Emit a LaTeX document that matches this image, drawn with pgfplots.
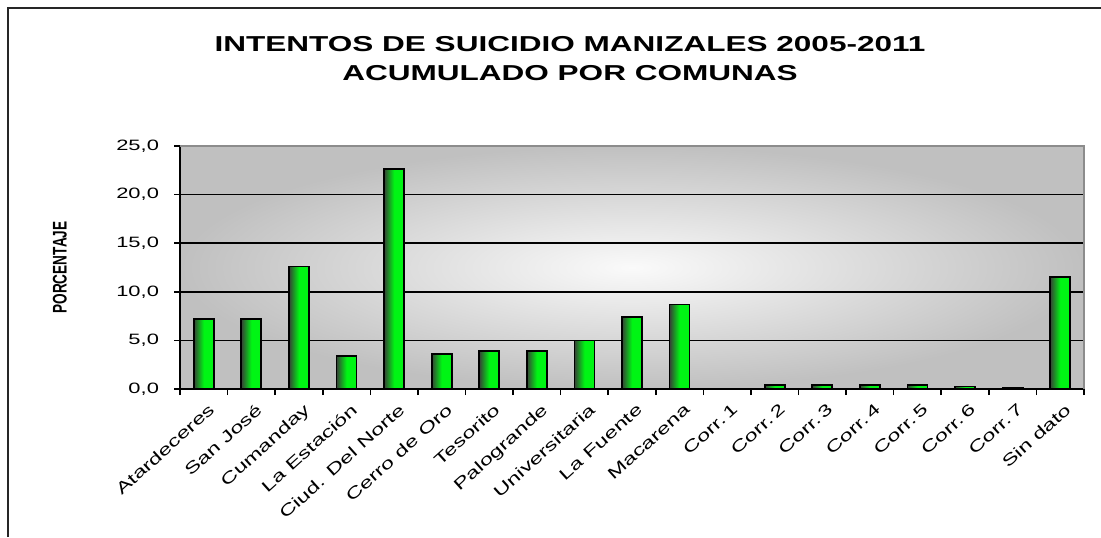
\documentclass[border=0pt]{standalone}
\usepackage{fontspec}
\setmainfont{Liberation Sans}
\newfontfamily\tickfont{Liberation Sans}[FakeStretch=1.46]
\newfontfamily\titlefont{Liberation Sans Bold}[FakeStretch=1.46]
\newfontfamily\boldfont{Liberation Sans Bold}
\usepackage{graphicx}
\usepackage{pgfplots}
\pgfplotsset{compat=1.18}
\definecolor{bargreen}{RGB}{0,245,20}
\definecolor{bardark}{RGB}{55,65,55}
\definecolor{bgedge}{RGB}{192,192,192}
\definecolor{bgcentre}{RGB}{250,250,250}

\pgfplotsset{
    gbar/.style={ybar, bar shift=0pt, bar width=10pt, draw=black, line width=0.9pt,
        left color=bardark, right color=bargreen, middle color=bargreen},
}

\begin{document}
\begin{tikzpicture}
\useasboundingbox (0,0) rectangle (550.5pt,268.5pt);
% outer chart frame (only left and top visible)
\draw[line width=1pt, black!85] (4pt,0) -- (4pt,264.5pt) -- (551pt,264.5pt);

\node[anchor=base, font=\titlefont\fontsize{10.8}{12}\selectfont] at (285pt,243pt)
  {INTENTOS DE SUICIDIO MANIZALES 2005-2011};
\node[anchor=base, font=\titlefont\fontsize{10.8}{12}\selectfont] at (285pt,228.5pt)
  {ACUMULADO POR COMUNAS};

\begin{axis}[
    at={(90pt,74pt)}, anchor=south west,
    scale only axis,
    width=452pt, height=121.5pt,
    xmin=-0.5, xmax=18.5,
    ymin=0, ymax=25,
    axis x line*=bottom, axis y line*=left,
    axis line style={black, line width=0.9pt},
    axis background/.style={shade, shading=radial, inner color=bgcentre, outer color=bgedge},
    ytick={0,5,...,25},
    ymajorgrids,
    major grid style={black, line width=0.8pt},
    tick align=outside,
    major tick length=3pt,
    major tick style={black, line width=0.8pt},
    xtick={0,...,18},
    xticklabels={Atardeceres,San José,Cumanday,La Estación,Ciud. Del Norte,Cerro de Oro,Tesorito,Palogrande,Universitaria,La Fuente,Macarena,Corr.\,1,Corr.\,2,Corr.\,3,Corr.\,4,Corr.\,5,Corr.\,6,Corr.\,7,Sin dato},
    major x tick style={draw=none},
    extra x ticks={-0.5,0.5,...,18.5},
    extra x tick labels={},
    extra x tick style={major x tick style={draw=black, line width=0.8pt}},
    x tick label style={font=\tickfont\fontsize{8}{9}\selectfont, rotate=42, anchor=north east, inner sep=1pt, yshift=-3pt},
    y tick label style={font=\tickfont\fontsize{7.5}{9}\selectfont, xshift=-4pt},
    /pgf/number format/.cd, fixed, fixed zerofill, precision=1, use comma, assume math mode=true,
    /pgfplots/.cd,
    ylabel={\scalebox{1}[1.45]{PORCENTAJE}},
    ylabel style={font=\boldfont\fontsize{6.8}{8}\selectfont, at={(axis description cs:-0.133,0.5)}, anchor=center},
    clip=false,
]
% one plot per bar so that each bar gets its own shading
\addplot[gbar] coordinates {(0,7.2)};
\addplot[gbar] coordinates {(1,7.2)};
\addplot[gbar] coordinates {(2,12.6)};
\addplot[gbar] coordinates {(3,3.4)};
\addplot[gbar] coordinates {(4,22.6)};
\addplot[gbar] coordinates {(5,3.6)};
\addplot[gbar] coordinates {(6,3.9)};
\addplot[gbar] coordinates {(7,3.9)};
\addplot[gbar] coordinates {(8,5.0)};
\addplot[gbar] coordinates {(9,7.4)};
\addplot[gbar] coordinates {(10,8.7)};
\addplot[ybar, bar shift=0pt, bar width=10pt, draw=none, fill=none] coordinates {(11,0)};
\addplot[gbar] coordinates {(12,0.4)};
\addplot[gbar] coordinates {(13,0.4)};
\addplot[gbar] coordinates {(14,0.4)};
\addplot[gbar] coordinates {(15,0.4)};
\addplot[gbar] coordinates {(16,0.25)};
\addplot[gbar] coordinates {(17,0.1)};
\addplot[gbar] coordinates {(18,11.5)};
% grey plot-area border on top and right
\draw[gray!90, line width=1pt] (axis description cs:0,1) -- (axis description cs:1,1) -- (axis description cs:1,0);
\end{axis}
\end{tikzpicture}
\end{document}
